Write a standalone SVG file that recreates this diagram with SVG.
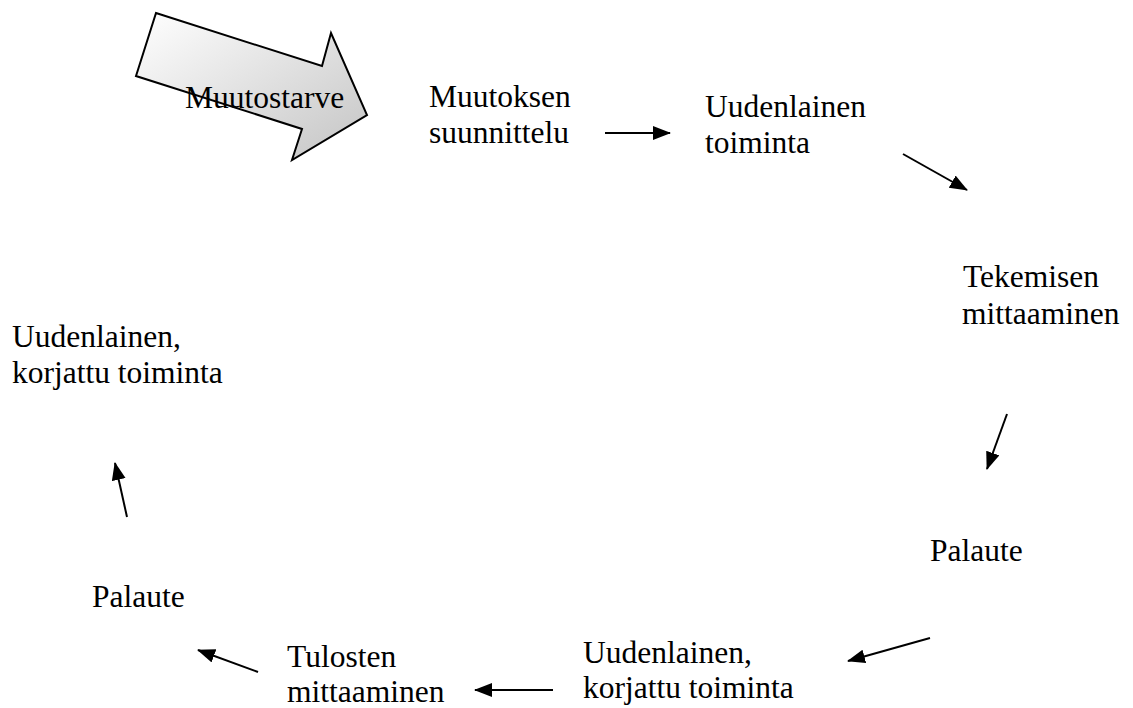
<svg xmlns="http://www.w3.org/2000/svg" width="1133" height="708" viewBox="0 0 1133 708">
<style>
text{font-family:"Liberation Serif","Times New Roman",serif;font-size:31.5px;fill:#000}
.c{stroke:#000;stroke-width:2;fill:none}
</style>
<defs>
<linearGradient id="g" x1="0" y1="0" x2="1" y2="1">
<stop offset="0" stop-color="#ffffff"/>
<stop offset="1" stop-color="#c4c4c4"/>
</linearGradient>
<marker id="ah" markerUnits="userSpaceOnUse" markerWidth="20" markerHeight="16" refX="17" refY="7" orient="auto">
<path d="M0,0 L18,7 L0,14 Z" fill="#000"/>
</marker>
</defs>
<rect width="1133" height="708" fill="#fff"/>
<g id="muutostarve">
<polygon points="156,13 322,66 331,33 367,115 292,160 302,129 136,76" fill="url(#g)" stroke="#000" stroke-width="2" stroke-linejoin="miter"/>
<text x="185" y="108">Muutostarve</text>
</g>
<g id="n1"><text x="429" y="107">Muutoksen</text><text x="429" y="143">suunnittelu</text></g>
<g id="n2"><text x="705" y="117">Uudenlainen</text><text x="705" y="153">toiminta</text></g>
<g id="n3"><text x="963" y="287">Tekemisen</text><text x="962" y="324">mittaaminen</text></g>
<g id="n4"><text x="930" y="561">Palaute</text></g>
<g id="n5"><text x="583" y="663">Uudenlainen,</text><text x="583" y="698">korjattu toiminta</text></g>
<g id="n6"><text x="287" y="667">Tulosten</text><text x="287" y="702">mittaaminen</text></g>
<g id="n7"><text x="92" y="607">Palaute</text></g>
<g id="n8"><text x="12" y="347">Uudenlainen,</text><text x="12" y="383">korjattu toiminta</text></g>
<g id="connectors">
<line class="c" x1="605" y1="133" x2="670" y2="133" marker-end="url(#ah)"/>
<line class="c" x1="903" y1="154" x2="967" y2="190" marker-end="url(#ah)"/>
<line class="c" x1="1007" y1="414" x2="987" y2="469" marker-end="url(#ah)"/>
<line class="c" x1="930" y1="638" x2="848" y2="661" marker-end="url(#ah)"/>
<line class="c" x1="553" y1="690" x2="475" y2="690" marker-end="url(#ah)"/>
<line class="c" x1="258" y1="672" x2="198" y2="650" marker-end="url(#ah)"/>
<line class="c" x1="127" y1="517" x2="115" y2="463" marker-end="url(#ah)"/>
</g>
</svg>
